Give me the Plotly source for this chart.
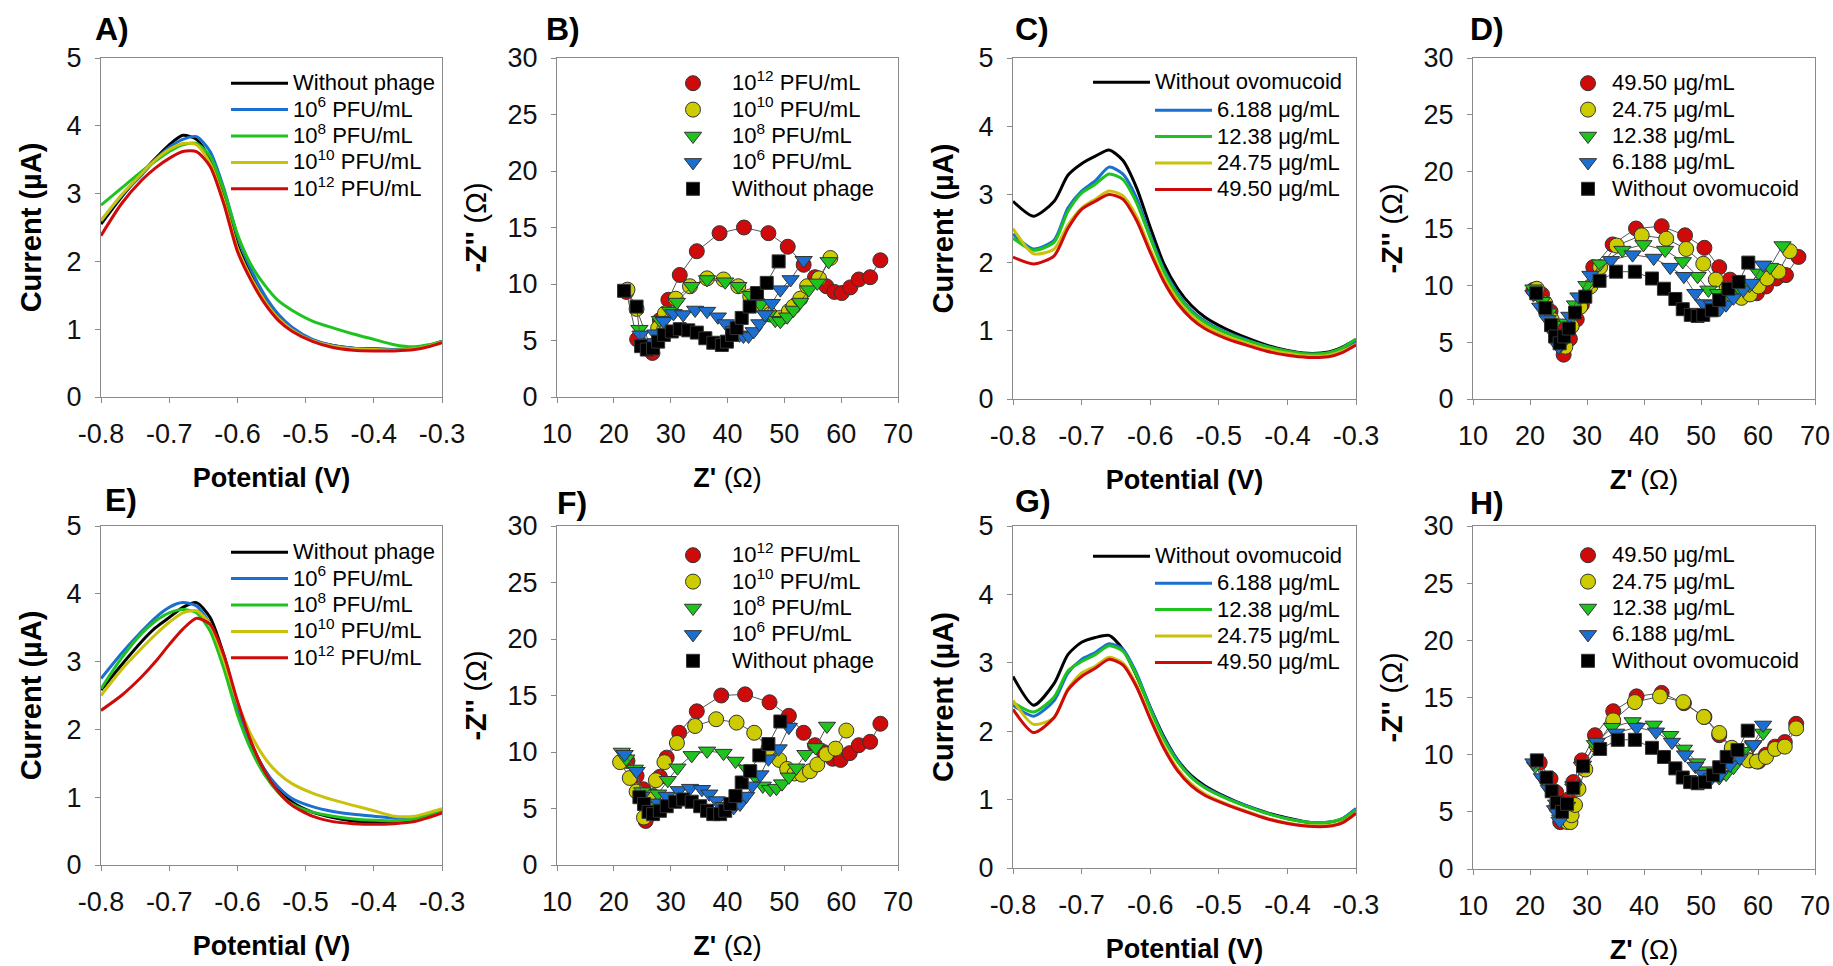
import plotly.graph_objects as go

FONT = "Arial, 'Liberation Sans', Helvetica, sans-serif"
W, H = 1833, 966

# ---------------- DATA ----------------
# DPV potential grid (V), shared by panels A, C, E, G
potential = [-0.80, -0.77, -0.74, -0.72, -0.70, -0.68, -0.66, -0.64, -0.62, -0.60, -0.58,
             -0.56, -0.54, -0.52, -0.49, -0.46, -0.43, -0.40, -0.37, -0.34, -0.32, -0.30]

dpv_ticks = [-0.8, -0.7, -0.6, -0.5, -0.4, -0.3]
dpv_tick_text = ["-0.8", "-0.7", "-0.6", "-0.5", "-0.4", "-0.3"]
current_ticks = [0, 1, 2, 3, 4, 5]
zre_ticks = [10, 20, 30, 40, 50, 60, 70]
zim_ticks = [0, 5, 10, 15, 20, 25, 30]

phage_labels = ["Without phage", "10<sup>6</sup> PFU/mL", "10<sup>8</sup> PFU/mL",
                "10<sup>10</sup> PFU/mL", "10<sup>12</sup> PFU/mL"]
ovo_labels = ["Without ovomucoid", "6.188 \u03bcg/mL", "12.38 \u03bcg/mL",
              "24.75 \u03bcg/mL", "49.50 \u03bcg/mL"]

# Panel A (current, uA)
a_none = [2.55, 2.95, 3.30, 3.52, 3.72, 3.86, 3.80, 3.50, 2.95, 2.25, 1.80, 1.45, 1.18, 1.00, 0.84, 0.76, 0.72, 0.71, 0.70, 0.72, 0.76, 0.82]
a_1e6 = [2.60, 2.97, 3.28, 3.50, 3.68, 3.80, 3.84, 3.62, 3.08, 2.38, 1.88, 1.50, 1.22, 1.03, 0.85, 0.76, 0.72, 0.71, 0.70, 0.72, 0.76, 0.82]
a_1e8 = [2.83, 3.08, 3.33, 3.48, 3.62, 3.72, 3.74, 3.55, 3.05, 2.40, 1.95, 1.65, 1.42, 1.28, 1.12, 1.02, 0.93, 0.85, 0.77, 0.74, 0.77, 0.82]
a_1e10 = [2.60, 2.98, 3.30, 3.50, 3.65, 3.74, 3.72, 3.45, 2.90, 2.20, 1.76, 1.42, 1.16, 0.99, 0.83, 0.75, 0.71, 0.70, 0.69, 0.71, 0.75, 0.81]
a_1e12 = [2.38, 2.85, 3.20, 3.38, 3.52, 3.62, 3.62, 3.40, 2.85, 2.15, 1.72, 1.38, 1.13, 0.97, 0.82, 0.73, 0.69, 0.68, 0.68, 0.70, 0.74, 0.80]

# Panel C
c_none = [2.90, 2.68, 2.90, 3.28, 3.45, 3.56, 3.65, 3.50, 3.10, 2.52, 1.98, 1.62, 1.37, 1.20, 1.03, 0.90, 0.79, 0.71, 0.67, 0.69, 0.76, 0.87]
c_6 = [2.42, 2.20, 2.33, 2.80, 3.05, 3.20, 3.40, 3.30, 2.95, 2.40, 1.90, 1.55, 1.30, 1.14, 0.98, 0.87, 0.77, 0.70, 0.66, 0.67, 0.73, 0.84]
c_12 = [2.36, 2.18, 2.30, 2.75, 3.02, 3.15, 3.30, 3.22, 2.88, 2.36, 1.87, 1.52, 1.28, 1.12, 0.97, 0.86, 0.77, 0.70, 0.66, 0.68, 0.75, 0.88]
c_24 = [2.50, 2.13, 2.20, 2.55, 2.80, 2.93, 3.05, 2.98, 2.68, 2.20, 1.77, 1.45, 1.22, 1.07, 0.92, 0.82, 0.73, 0.67, 0.63, 0.64, 0.70, 0.80]
c_49 = [2.08, 1.98, 2.10, 2.50, 2.78, 2.90, 3.00, 2.93, 2.62, 2.15, 1.72, 1.40, 1.18, 1.03, 0.89, 0.79, 0.70, 0.64, 0.61, 0.62, 0.68, 0.79]

# Panel E
e_none = [2.58, 2.95, 3.30, 3.50, 3.65, 3.80, 3.87, 3.65, 3.10, 2.35, 1.80, 1.40, 1.12, 0.93, 0.78, 0.70, 0.65, 0.63, 0.63, 0.66, 0.72, 0.78]
e_1e6 = [2.75, 3.12, 3.45, 3.65, 3.80, 3.87, 3.82, 3.55, 3.00, 2.30, 1.78, 1.40, 1.15, 0.98, 0.86, 0.79, 0.75, 0.72, 0.69, 0.70, 0.74, 0.80]
e_1e8 = [2.60, 3.05, 3.42, 3.60, 3.72, 3.77, 3.72, 3.45, 2.90, 2.22, 1.70, 1.33, 1.07, 0.90, 0.78, 0.72, 0.68, 0.66, 0.65, 0.68, 0.73, 0.80]
e_1e10 = [2.50, 2.88, 3.20, 3.40, 3.58, 3.72, 3.75, 3.55, 3.02, 2.40, 1.92, 1.58, 1.35, 1.20, 1.06, 0.96, 0.88, 0.80, 0.72, 0.72, 0.77, 0.83]
e_1e12 = [2.28, 2.50, 2.78, 3.00, 3.25, 3.48, 3.64, 3.55, 3.10, 2.42, 1.82, 1.38, 1.08, 0.88, 0.72, 0.64, 0.61, 0.60, 0.61, 0.64, 0.70, 0.77]

# Panel G
g_none = [2.80, 2.38, 2.70, 3.12, 3.30, 3.37, 3.40, 3.20, 2.81, 2.35, 1.92, 1.58, 1.35, 1.20, 1.04, 0.91, 0.81, 0.73, 0.67, 0.67, 0.72, 0.86]
g_6 = [2.38, 2.22, 2.45, 2.85, 3.05, 3.15, 3.28, 3.20, 2.85, 2.35, 1.90, 1.57, 1.33, 1.18, 1.03, 0.91, 0.80, 0.72, 0.67, 0.67, 0.72, 0.87]
g_12 = [2.42, 2.28, 2.50, 2.88, 3.02, 3.12, 3.25, 3.17, 2.82, 2.32, 1.88, 1.55, 1.32, 1.17, 1.02, 0.90, 0.80, 0.72, 0.67, 0.67, 0.72, 0.85]
g_24 = [2.45, 2.10, 2.20, 2.62, 2.85, 2.95, 3.08, 3.00, 2.68, 2.20, 1.78, 1.45, 1.23, 1.08, 0.94, 0.83, 0.73, 0.66, 0.62, 0.62, 0.67, 0.80]
g_49 = [2.32, 1.98, 2.20, 2.60, 2.80, 2.92, 3.05, 2.97, 2.65, 2.18, 1.75, 1.42, 1.20, 1.06, 0.93, 0.82, 0.72, 0.65, 0.61, 0.61, 0.66, 0.80]

# Panel B (Nyquist, ohm)
b_1e12_zre = [22.2, 24.1, 26.8, 28.1, 29.6, 31.6, 34.6, 38.6, 42.9, 47.2, 50.6, 53.4, 55.4, 57.4, 58.8, 60.1, 61.6, 63.1, 65.1, 66.9]
b_1e12_zim = [9.3, 5.1, 3.9, 6.8, 8.6, 10.8, 12.9, 14.5, 15.0, 14.5, 13.3, 11.7, 10.6, 9.8, 9.3, 9.2, 9.7, 10.4, 10.6, 12.1]
b_1e10_zre = [22.4, 24.0, 26.4, 27.8, 29.0, 30.9, 33.4, 36.4, 39.3, 41.9, 44.0, 45.9, 47.5, 49.3, 50.8, 51.6, 52.8, 54.0, 56.1, 58.1]
b_1e10_zim = [9.5, 7.8, 4.5, 6.1, 7.4, 8.7, 9.8, 10.5, 10.4, 9.8, 8.9, 8.1, 7.3, 7.0, 7.6, 8.0, 8.7, 9.8, 10.5, 12.3]
b_1e8_zre = [24.5, 26.4, 28.1, 29.9, 31.1, 33.7, 36.4, 39.6, 41.9, 44.0, 45.8, 47.2, 48.4, 49.3, 50.5, 51.6, 52.8, 54.3, 55.8, 57.8]
b_1e8_zim = [6.0, 4.6, 6.8, 7.6, 8.4, 9.8, 10.4, 10.2, 9.8, 9.0, 8.2, 7.3, 6.8, 6.7, 7.1, 7.7, 8.4, 9.5, 10.1, 12.0]
b_1e6_zre = [24.7, 25.8, 27.3, 28.8, 30.5, 32.2, 34.3, 36.4, 38.3, 39.7, 41.1, 42.1, 42.8, 43.7, 44.6, 45.6, 46.6, 47.8, 49.3, 51.1, 53.4]
b_1e6_zim = [5.5, 4.8, 5.6, 6.7, 7.4, 7.3, 7.7, 7.6, 7.1, 6.5, 5.9, 5.5, 5.4, 5.4, 5.8, 6.5, 7.3, 8.3, 9.5, 10.4, 12.1]
b_none_zre = [21.8, 24.0, 24.8, 25.8, 26.9, 27.8, 28.8, 30.2, 31.6, 33.1, 34.6, 36.1, 37.5, 39.0, 39.9, 40.8, 41.6, 42.5, 43.9, 45.2, 46.9, 49.0]
b_none_zim = [9.4, 8.0, 4.5, 4.2, 4.3, 4.9, 5.5, 5.8, 6.0, 5.9, 5.7, 5.2, 4.8, 4.6, 4.9, 5.5, 6.1, 7.0, 8.0, 9.2, 10.1, 12.0]

# Panel D
d_49_zre = [20.6, 22.1, 23.6, 24.7, 25.9, 27.0, 28.2, 29.1, 31.1, 34.5, 38.6, 43.1, 47.2, 50.6, 53.2, 55.1, 56.8, 58.3, 59.8, 61.4, 63.2, 64.9, 67.1]
d_49_zim = [9.6, 9.2, 7.7, 6.1, 3.9, 5.3, 7.0, 8.3, 11.6, 13.6, 15.0, 15.2, 14.4, 13.3, 11.6, 10.5, 9.7, 9.4, 9.3, 9.9, 10.6, 10.9, 12.5]
d_24_zre = [21.2, 22.7, 23.8, 25.2, 26.2, 27.3, 28.8, 30.6, 32.3, 35.2, 39.6, 43.9, 47.4, 50.4, 52.6, 54.5, 57.1, 58.6, 60.1, 61.6, 63.6, 65.6]
d_24_zim = [9.7, 8.4, 7.0, 5.2, 4.6, 6.4, 8.1, 9.9, 11.6, 13.5, 14.4, 14.1, 13.2, 11.9, 10.5, 9.7, 8.9, 9.2, 9.9, 10.6, 11.2, 13.0]
d_12_zre = [20.6, 22.1, 23.3, 24.1, 25.2, 26.5, 27.9, 29.9, 32.3, 36.2, 39.9, 43.7, 46.8, 49.4, 51.3, 53.0, 55.0, 56.8, 58.5, 60.1, 62.1, 64.3]
d_12_zim = [9.7, 8.6, 7.6, 6.5, 4.6, 6.7, 8.3, 10.0, 11.9, 13.1, 13.6, 13.1, 12.1, 10.8, 9.6, 9.3, 9.1, 9.7, 10.0, 11.1, 11.6, 13.5]
d_6_zre = [20.6, 21.8, 23.1, 24.1, 25.0, 25.9, 26.9, 28.5, 30.6, 34.2, 38.0, 41.7, 44.6, 47.0, 49.0, 50.4, 51.9, 53.3, 54.4, 55.7, 57.4, 58.9, 60.9]
d_6_zim = [9.2, 8.1, 7.0, 5.8, 4.6, 5.8, 7.3, 9.0, 10.9, 12.2, 12.7, 12.4, 11.6, 10.8, 9.3, 8.4, 8.3, 7.9, 8.3, 8.9, 9.6, 10.2, 11.8]
d_none_zre = [21.1, 22.7, 23.7, 24.4, 25.2, 26.0, 26.8, 27.9, 29.7, 32.2, 35.1, 38.4, 41.4, 43.5, 45.5, 46.8, 48.2, 49.4, 50.4, 51.9, 53.2, 54.8, 56.6, 58.3]
d_none_zim = [9.3, 8.0, 6.5, 5.5, 4.9, 5.5, 6.2, 7.6, 9.0, 10.4, 11.2, 11.2, 10.6, 9.7, 8.8, 7.9, 7.4, 7.3, 7.4, 7.8, 8.7, 9.7, 10.3, 12.0]

# Panel F
f_1e12_zre = [22.4, 24.0, 25.2, 25.6, 26.9, 28.1, 29.3, 31.5, 34.6, 38.9, 43.1, 47.4, 50.8, 53.4, 55.4, 56.9, 58.5, 59.9, 61.5, 63.1, 65.1, 66.9]
f_1e12_zim = [9.2, 7.9, 6.7, 3.9, 6.1, 7.8, 9.5, 11.7, 13.6, 15.0, 15.1, 14.4, 13.2, 11.7, 10.6, 10.0, 9.4, 9.3, 9.9, 10.6, 10.9, 12.5]
f_1e10_zre = [21.1, 22.8, 24.0, 25.3, 26.2, 27.4, 28.9, 31.1, 34.3, 38.0, 41.6, 44.7, 47.2, 49.1, 50.5, 51.8, 53.1, 54.5, 55.8, 57.4, 59.0, 60.9]
f_1e10_zim = [9.1, 7.7, 6.5, 4.2, 6.0, 7.5, 9.1, 10.8, 12.3, 12.9, 12.6, 11.7, 10.3, 9.3, 8.5, 8.1, 8.0, 8.3, 8.9, 9.8, 10.3, 11.9]
f_1e8_zre = [21.4, 22.2, 23.7, 25.0, 26.5, 27.8, 29.5, 31.2, 33.7, 36.4, 39.3, 41.4, 43.4, 44.9, 46.2, 47.5, 48.6, 49.6, 50.8, 52.1, 53.7, 55.5, 57.5]
f_1e8_zim = [10.0, 9.4, 8.5, 6.5, 5.2, 6.3, 7.5, 8.6, 9.7, 10.1, 9.9, 9.2, 8.5, 7.8, 7.0, 6.7, 6.8, 7.2, 7.8, 8.6, 9.8, 10.4, 12.3]
f_1e6_zre = [21.9, 24.0, 24.9, 26.1, 27.8, 29.3, 31.4, 33.4, 35.5, 36.8, 38.1, 39.3, 41.1, 42.2, 43.3, 44.3, 45.8, 47.2, 49.0, 50.8]
f_1e6_zim = [9.8, 8.3, 6.1, 4.7, 5.5, 6.1, 6.6, 6.8, 6.7, 6.3, 5.7, 5.2, 5.1, 5.4, 6.1, 7.0, 8.0, 9.4, 10.3, 12.2]
f_none_zre = [24.5, 25.3, 26.1, 26.9, 28.1, 29.3, 30.8, 32.2, 33.7, 35.2, 36.4, 37.5, 38.7, 39.6, 40.5, 41.4, 42.5, 44.0, 45.6, 47.2, 49.3]
f_none_zim = [6.0, 5.4, 4.7, 4.5, 4.8, 5.2, 5.6, 5.8, 5.6, 5.2, 4.8, 4.5, 4.5, 4.8, 5.4, 6.1, 7.3, 8.3, 9.7, 10.7, 12.7]

# Panel H
h_49_zre = [21.7, 23.6, 24.6, 25.3, 26.8, 27.6, 29.1, 31.4, 34.6, 38.7, 43.1, 47.0, 50.6, 53.2, 55.4, 57.1, 58.6, 60.1, 61.4, 63.0, 64.7, 66.7]
h_49_zim = [9.3, 7.9, 6.7, 4.1, 6.1, 7.6, 9.5, 11.7, 13.8, 15.1, 15.4, 14.5, 13.3, 11.7, 10.5, 9.8, 9.5, 9.4, 10.0, 10.7, 11.1, 12.7]
h_24_zre = [24.6, 25.5, 26.2, 26.6, 27.1, 27.3, 27.9, 28.5, 29.7, 31.7, 34.6, 38.4, 42.8, 46.9, 50.5, 53.2, 55.4, 57.0, 58.3, 59.8, 61.4, 63.0, 64.7, 66.7]
h_24_zim = [5.4, 4.7, 4.4, 4.1, 4.1, 4.7, 5.6, 7.0, 8.7, 10.8, 13.0, 14.6, 15.1, 14.6, 13.3, 11.9, 10.6, 9.8, 9.5, 9.4, 9.8, 10.5, 10.7, 12.3]
h_12_zre = [20.9, 22.4, 23.6, 24.6, 25.3, 26.5, 27.6, 29.1, 31.4, 34.4, 38.0, 41.7, 44.6, 47.0, 49.3, 50.7, 52.2, 53.2, 54.4, 55.7, 57.4, 59.1, 60.9]
h_12_zim = [9.0, 7.8, 6.8, 5.7, 4.4, 5.5, 7.1, 9.0, 10.9, 12.4, 12.9, 12.6, 11.7, 10.5, 9.3, 8.6, 8.2, 8.0, 8.3, 8.9, 10.3, 10.8, 11.9]
h_6_zre = [20.6, 22.1, 23.3, 24.4, 25.2, 26.4, 27.6, 29.3, 31.7, 35.1, 38.7, 42.1, 44.9, 47.2, 49.0, 50.4, 51.9, 53.3, 55.1, 56.8, 59.2, 60.9]
h_6_zim = [9.3, 8.0, 7.0, 5.2, 4.2, 5.5, 7.3, 9.1, 11.1, 11.9, 12.4, 12.0, 11.1, 10.0, 9.0, 8.3, 8.0, 8.2, 9.1, 9.7, 10.9, 12.6]
h_none_zre = [21.2, 22.9, 23.8, 24.7, 25.6, 26.5, 27.6, 29.3, 32.3, 35.4, 38.4, 41.4, 43.5, 45.5, 46.8, 48.1, 49.4, 50.7, 52.1, 53.2, 54.5, 56.4, 58.2]
h_none_zim = [9.5, 8.0, 6.8, 5.8, 5.0, 5.7, 7.1, 9.0, 10.5, 11.3, 11.3, 10.6, 9.8, 8.8, 8.0, 7.6, 7.5, 7.6, 8.2, 8.9, 9.8, 10.4, 12.1]

# ---------------- STYLE ----------------
BLACK, BLUE, GREEN, YELLOW, RED = "#000000", "#1a6fd0", "#1ec31e", "#c9c10a", "#cf0a0a"
MK_YELLOW = "#cccc00"
AXIS_GREY = "#8a8a8a"
LEG_TXT = '<span style="font-size:22px">{}</span>'

# plot-area boxes in pixels: (left, right, top, bottom)
boxes = {
    1: (101, 442, 58, 397),    # A
    2: (557, 898, 58, 397),    # B
    3: (1013, 1356, 58, 399),  # C
    4: (1473, 1815, 58, 399),  # D
    5: (101, 442, 526, 865),   # E
    6: (557, 898, 526, 865),   # F
    7: (1013, 1356, 526, 868), # G
    8: (1473, 1815, 526, 869), # H
}

fig = go.Figure()


def axname(k, letter):
    return letter if k == 1 else f"{letter}{k}"


def add_dpv(k, series, labels, legends):
    colors = [BLACK, BLUE, GREEN, YELLOW, RED]
    for vals, lab, col, lg in zip(series, labels, colors, legends):
        fig.add_trace(go.Scatter(
            x=potential, y=vals, mode="lines", name=LEG_TXT.format(lab),
            line=dict(color=col, width=3, shape="spline", smoothing=0.7),
            legend=lg, xaxis=axname(k, "x"), yaxis=axname(k, "y"),
            hoverinfo="skip"))


def add_nyq(k, series, labels, legend):
    styles = [("circle", RED, 15), ("circle", MK_YELLOW, 15), ("triangle-down", GREEN, 15),
              ("triangle-down", BLUE, 15), ("square", BLACK, 13)]
    for (zr, zi), lab, (sym, col, sz) in zip(series, labels, styles):
        fig.add_trace(go.Scatter(
            x=zr, y=zi, mode="lines", line=dict(color="#555555", width=1),
            showlegend=False, xaxis=axname(k, "x"), yaxis=axname(k, "y"), hoverinfo="skip"))
        fig.add_trace(go.Scatter(
            x=zr, y=zi, mode="markers", name=LEG_TXT.format(lab), legend=legend,
            marker=dict(symbol=sym, color=col, size=sz, line=dict(color="#333333", width=1)),
            xaxis=axname(k, "x"), yaxis=axname(k, "y")))


add_dpv(1, [a_none, a_1e6, a_1e8, a_1e10, a_1e12], phage_labels, ["legend"] * 5)
add_nyq(2, [(b_1e12_zre, b_1e12_zim), (b_1e10_zre, b_1e10_zim), (b_1e8_zre, b_1e8_zim),
            (b_1e6_zre, b_1e6_zim), (b_none_zre, b_none_zim)],
        [phage_labels[4], phage_labels[3], phage_labels[2], phage_labels[1], phage_labels[0]], "legend2")
add_dpv(3, [c_none, c_6, c_12, c_24, c_49], ovo_labels, ["legend3"] + ["legend9"] * 4)
add_nyq(4, [(d_49_zre, d_49_zim), (d_24_zre, d_24_zim), (d_12_zre, d_12_zim),
            (d_6_zre, d_6_zim), (d_none_zre, d_none_zim)],
        [ovo_labels[4], ovo_labels[3], ovo_labels[2], ovo_labels[1], ovo_labels[0]], "legend4")
add_dpv(5, [e_none, e_1e6, e_1e8, e_1e10, e_1e12], phage_labels, ["legend5"] * 5)
add_nyq(6, [(f_1e12_zre, f_1e12_zim), (f_1e10_zre, f_1e10_zim), (f_1e8_zre, f_1e8_zim),
            (f_1e6_zre, f_1e6_zim), (f_none_zre, f_none_zim)],
        [phage_labels[4], phage_labels[3], phage_labels[2], phage_labels[1], phage_labels[0]], "legend6")
add_dpv(7, [g_none, g_6, g_12, g_24, g_49], ovo_labels, ["legend7"] + ["legend10"] * 4)
add_nyq(8, [(h_49_zre, h_49_zim), (h_24_zre, h_24_zim), (h_12_zre, h_12_zim),
            (h_6_zre, h_6_zim), (h_none_zre, h_none_zim)],
        [ovo_labels[4], ovo_labels[3], ovo_labels[2], ovo_labels[1], ovo_labels[0]], "legend8")

layout = dict(
    width=W, height=H, margin=dict(l=0, r=0, t=0, b=0, autoexpand=False),
    paper_bgcolor="white", plot_bgcolor="white",
    font=dict(family=FONT, color="black"),
    showlegend=True,
)

tickfont = dict(family=FONT, size=27, color="#111111")
for k, (l, r, t, b) in boxes.items():
    is_dpv = k in (1, 3, 5, 7)
    xa = dict(domain=[l / W, r / W], anchor=axname(k, "y"),
              showline=True, mirror=True, linecolor=AXIS_GREY, linewidth=1,
              ticks="outside", ticklen=5, tickcolor=AXIS_GREY, showgrid=False, zeroline=False,
              tickfont=tickfont, ticklabelstandoff=8, automargin=False)
    ya = dict(domain=[1 - b / H, 1 - t / H], anchor=axname(k, "x"),
              showline=True, mirror=True, linecolor=AXIS_GREY, linewidth=1,
              ticks="outside", ticklen=5, tickcolor=AXIS_GREY, showgrid=False, zeroline=False,
              tickfont=tickfont, ticklabelstandoff=8, automargin=False)
    if is_dpv:
        xa.update(range=[-0.8, -0.3], tickvals=dpv_ticks, ticktext=dpv_tick_text,
                  title=dict(text="<b>Potential (V)</b>", font=dict(size=27), standoff=19))
        ya.update(range=[0, 5], tickvals=current_ticks,
                  title=dict(text="<b>Current (\u00b5A)</b>", font=dict(size=29), standoff=16))
    else:
        xa.update(range=[10, 70], tickvals=zre_ticks,
                  title=dict(text="<b>Z'</b> (\u03a9)", font=dict(size=27), standoff=19))
        ya.update(range=[0, 30], tickvals=zim_ticks,
                  title=dict(text="<b>-Z''</b> (\u03a9)", font=dict(size=29), standoff=12))
    layout["xaxis" if k == 1 else f"xaxis{k}"] = xa
    layout["yaxis" if k == 1 else f"yaxis{k}"] = ya


def legend_at(left, top, itemwidth):
    return dict(x=left / W, y=1 - top / H, xanchor="left", yanchor="top",
                bgcolor="rgba(0,0,0,0)", borderwidth=0, itemwidth=itemwidth,
                font=dict(family=FONT, size=18, color="black"), tracegroupgap=0)


layout["legend"] = legend_at(226, 65, 57)
layout["legend2"] = legend_at(654, 65, 68)
layout["legend3"] = legend_at(1088, 64, 57)
layout["legend9"] = legend_at(1150, 92, 57)
layout["legend4"] = legend_at(1564, 65, 38)
layout["legend5"] = legend_at(226, 534, 57)
layout["legend6"] = legend_at(654, 537, 68)
layout["legend7"] = legend_at(1088, 538, 57)
layout["legend10"] = legend_at(1150, 565, 57)
layout["legend8"] = legend_at(1564, 537, 38)

panel_labels = [("A)", 93, 29), ("B)", 544, 29), ("C)", 1013, 29), ("D)", 1468, 29),
                ("E)", 103, 500), ("F)", 555, 503), ("G)", 1013, 501), ("H)", 1468, 503)]
layout["annotations"] = [
    dict(text=f"<b>{t}</b>", x=x / W, y=1 - y / H, xref="paper", yref="paper",
         xanchor="left", yanchor="middle", showarrow=False,
         font=dict(family=FONT, size=32, color="black"))
    for t, x, y in panel_labels
]

fig.update_layout(**layout)
# remove the browser's default 8px page margin so the figure sits at the window origin
fig.write_html("out.html", config={"displayModeBar": False},
               post_script="document.body.style.margin='0';")
